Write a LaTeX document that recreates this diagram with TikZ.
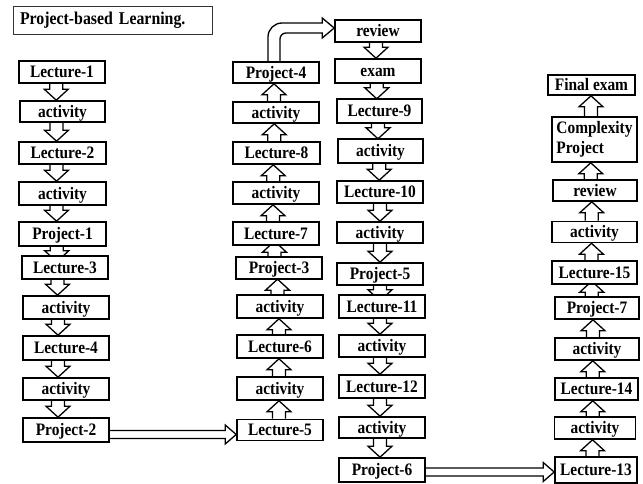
\documentclass[tikz,border=0pt]{standalone}
\usepackage{fontspec}
\setmainfont{Liberation Serif}[FakeStretch=0.88]
\usetikzlibrary{calc}
\pgfdeclarelayer{bg}
\pgfsetlayers{bg,main}

\tikzset{
  boxbase/.style={draw, line width=1.6pt, fill=white, inner sep=0pt,
    minimum width=86pt, minimum height=22pt,
    font=\fontsize{17.5}{19.5}\selectfont\bfseries},
  box/.style={boxbase, text height=11.5pt, text depth=0pt},
  blk/.style={draw, line width=1.3pt, fill=white, line join=miter},
}

% hollow block arrow pointing down, from the bottom of #2 to the top of #3
\newcommand\downblk[3][0]{%
  \begin{pgfonlayer}{bg}
  \filldraw[blk] let \p1=(#2.south), \p2=(#3.north),
    \n1={\x1/2+\x2/2+#1pt}, \n2={max(\y1-\y2-11pt,4pt)} in
    (\n1-6.5pt,\y1) -- (\n1-6.5pt,\y1-\n2) -- (\n1-12pt,\y1-\n2)
    -- (\n1,\y1-\n2-11pt) -- (\n1+12pt,\y1-\n2) -- (\n1+6.5pt,\y1-\n2)
    -- (\n1+6.5pt,\y1);
  \end{pgfonlayer}}

% hollow block arrow pointing up, from the top of #2 to the bottom of #3
\newcommand\upblk[3][0]{%
  \begin{pgfonlayer}{bg}
  \filldraw[blk] let \p1=(#2.north), \p2=(#3.south),
    \n1={\x1/2+\x2/2+#1pt}, \n2={max(\y2-\y1-11pt,4pt)} in
    (\n1-6.5pt,\y1) -- (\n1-6.5pt,\y1+\n2) -- (\n1-12pt,\y1+\n2)
    -- (\n1,\y1+\n2+11pt) -- (\n1+12pt,\y1+\n2) -- (\n1+6.5pt,\y1+\n2)
    -- (\n1+6.5pt,\y1);
  \end{pgfonlayer}}

% long double-line arrow to the right, from #2 to #3, shifted down by #1
\newcommand\rightblk[3][0]{%
  \begin{pgfonlayer}{bg}
  \filldraw[blk] let \p1=(#2.east), \p2=(#3.west),
    \n1={\y1/2+\y2/2-#1pt} in
    (\x1,\n1+4pt) -- (\x2-11pt,\n1+4pt) -- (\x2-11pt,\n1+9.5pt)
    -- (\x2,\n1) -- (\x2-11pt,\n1-9.5pt) -- (\x2-11pt,\n1-4pt)
    -- (\x1,\n1-4pt);
  \end{pgfonlayer}}

\begin{document}
\begin{tikzpicture}[x=1pt,y=-1pt]
\begin{pgfonlayer}{bg}
  \fill[white] (0,0) rectangle (643,484);
\end{pgfonlayer}
\useasboundingbox (0,0) rectangle (643,484);

% title
\node[draw=black!80, line width=0.8pt, inner xsep=7pt, inner ysep=0pt,
  text width=185pt, align=left, minimum height=28pt,
  font=\fontsize{18}{20}\selectfont\bfseries] (title) at (112.5,20) {Project-based Learning.};

% first column (downwards)
\node[box] (l1) at (62,72) {Lecture-1};
\node[box, minimum width=85pt, minimum height=21pt] (a1) at (62.5,111.5) {activity};
\node[box, minimum width=87pt] (l2) at (62.5,153) {Lecture-2};
\node[box, minimum width=87pt, minimum height=23pt] (a2) at (62.5,193.5) {activity};
\node[box, minimum width=87pt, minimum height=24pt] (p1) at (62.5,234) {Project-1};
\node[box, minimum height=23pt] (l3) at (65,267.5) {Lecture-3};
\node[box, minimum height=23pt] (a3) at (66,307.5) {activity};
\node[box, minimum height=24pt] (l4) at (66,348) {Lecture-4};
\node[box] (a4) at (66,389) {activity};
\node[box, minimum height=24pt] (p2) at (66,430) {Project-2};

% second column (upwards)
\node[box, minimum height=21pt] (l5) at (280,430) {Lecture-5};
\node[box, minimum height=23pt] (a5) at (280,388.5) {activity};
\node[box, minimum height=23pt] (l6) at (280,346.5) {Lecture-6};
\node[box, minimum height=23pt] (a6) at (280,306.5) {activity};
\node[box] (p3) at (279,268) {Project-3};
\node[box, minimum height=23pt] (l7) at (276,233.5) {Lecture-7};
\node[box] (a7) at (276,193) {activity};
\node[box, minimum width=87pt] (l8) at (276.5,153) {Lecture-8};
\node[box, minimum height=21pt] (a8) at (276,112.5) {activity};
\node[box, minimum height=21pt] (p4) at (276,72.5) {Project-4};

% third column (downwards)
\node[box] (rv) at (378,31) {review};
\node[box, minimum height=24pt] (ex) at (378,71) {exam};
\node[box, minimum width=85pt, minimum height=24pt] (l9) at (379.5,111) {Lecture-9};
\node[box, minimum width=85pt, minimum height=24pt] (a9) at (380.5,151) {activity};
\node[box] (l10) at (380,192) {Lecture-10};
\node[box, minimum height=21pt] (a10) at (380,232.5) {activity};
\node[box] (p5) at (380,274) {Project-5};
\node[box, minimum height=23pt] (l11) at (382,306.5) {Lecture-11};
\node[box] (a11) at (382,346) {activity};
\node[box, minimum height=23pt] (l12) at (382,386.5) {Lecture-12};
\node[box, minimum height=21pt] (a12) at (382,427.5) {activity};
\node[box, minimum height=24pt] (p6) at (382,470) {Project-6};

% fourth column (upwards)
\node[box, minimum width=82pt, minimum height=26pt] (l13) at (596,470) {Lecture-13};
\node[box, minimum width=81pt] (a13) at (595,428) {activity};
\node[box, minimum width=83pt] (l14) at (596.5,389) {Lecture-14};
\node[box, minimum width=84pt] (a14) at (597,349) {activity};
\node[box, minimum width=84pt] (p7) at (597,308) {Project-7};
\node[box, minimum width=85pt, minimum height=23pt] (l15) at (594.5,272.5) {Lecture-15};
\node[box, minimum width=85pt, minimum height=21pt] (a15) at (594.5,232) {activity};
\node[box, minimum width=84pt, minimum height=21pt] (rv2) at (595,190.5) {review};
\node[boxbase, minimum width=85pt, minimum height=45pt, align=left] (cp) at (594.5,139.5) {Complexity\\Project};
\node[box, minimum width=87pt, minimum height=20pt] (fe) at (591.5,85) {Final exam};

% connectors, first column
\downblk[-6]{l1}{a1}
\downblk[-6]{a1}{l2}
\downblk[-6]{l2}{a2}
\downblk[-6]{a2}{p1}
\downblk[-7]{p1}{l3}
\downblk[-8]{l3}{a3}
\downblk[-8]{a3}{l4}
\downblk[-8]{l4}{a4}
\downblk[-8]{a4}{p2}
\rightblk[4.5]{p2}{l5}

% second column
\upblk[-1]{l5}{a5}
\upblk[-1]{a5}{l6}
\upblk[-1]{l6}{a6}
\upblk[-2]{a6}{p3}
\upblk[-3]{p3}{l7}
\upblk[-3]{l7}{a7}
\upblk[-3]{a7}{l8}
\upblk[-2]{l8}{a8}
\upblk[-2]{a8}{p4}

% bent arrow from Project-4 over to review
\begin{pgfonlayer}{bg}
\filldraw[blk] let \p1=(p4.north), \p2=(rv.west),
  \n1={\x1-2pt}, \n2={\y2+3pt} in
  (\n1-6pt,\y1) -- (\n1-6pt,\n2+5pt-14pt)
  .. controls (\n1-6pt,\n2+5pt-6.3pt) and (\n1-6pt+6.3pt,\n2+5pt) .. (\n1-6pt+14pt,\n2+5pt)
  -- (\x2-12pt,\n2+5pt) -- (\x2-12pt,\n2+10pt) -- (\x2,\n2)
  -- (\x2-12pt,\n2-10pt) -- (\x2-12pt,\n2-5pt) -- (\n1+6pt+6pt,\n2-5pt)
  .. controls (\n1+6pt+2.7pt,\n2-5pt) and (\n1+6pt,\n2-5pt-2.7pt) .. (\n1+6pt,\n2-5pt-6pt)
  -- (\n1+6pt,\y1);
\end{pgfonlayer}

% third column
\downblk[-2]{rv}{ex}
\downblk[-2]{ex}{l9}
\downblk[-2]{l9}{a9}
\downblk[-1]{a9}{l10}
\downblk{l10}{a10}
\downblk{a10}{p5}
\downblk[-1]{p5}{l11}
\downblk[-2]{l11}{a11}
\downblk[-2]{a11}{l12}
\downblk[-2]{l12}{a12}
\downblk[-2]{a12}{p6}
\rightblk[2]{p6}{l13}

% fourth column
\upblk[-3]{l13}{a13}
\upblk[-3]{a13}{l14}
\upblk[-4]{l14}{a14}
\upblk[-4]{a14}{p7}
\upblk[-4]{p7}{l15}
\upblk[-3]{l15}{a15}
\upblk[-3]{a15}{rv2}
\upblk[-4]{rv2}{cp}
\upblk[-2]{cp}{fe}
\end{tikzpicture}
\end{document}
